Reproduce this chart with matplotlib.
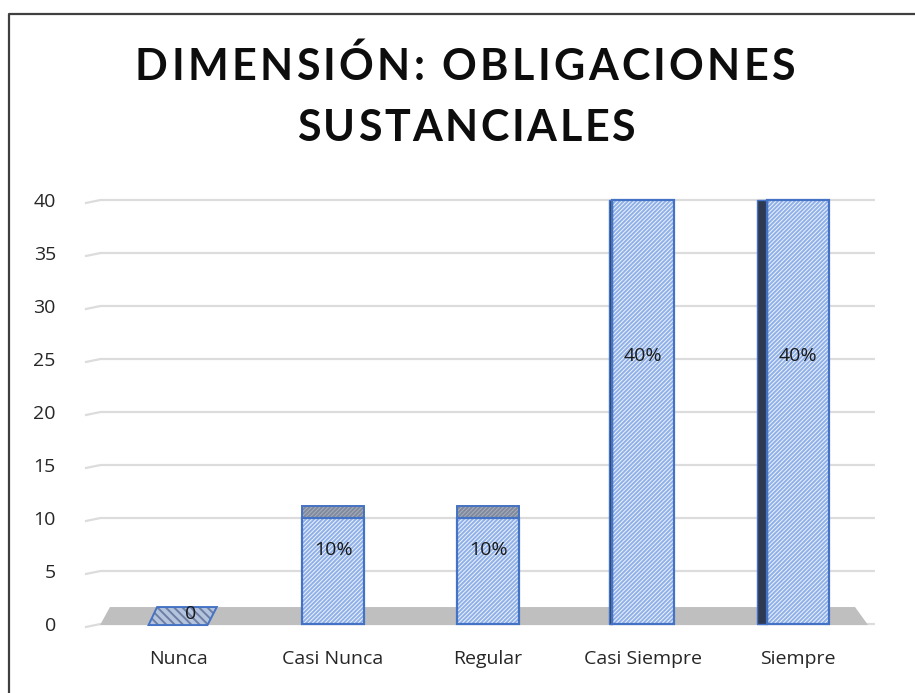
import matplotlib
matplotlib.use("Agg")
import matplotlib.pyplot as plt
from matplotlib.patches import Polygon, Rectangle
from matplotlib.font_manager import FontProperties

categories = ["Nunca", "Casi Nunca", "Regular", "Casi Siempre", "Siempre"]
values = [0, 10, 10, 40, 40]
value_labels = ["0", "10%", "10%", "40%", "40%"]
yticks = [0, 5, 10, 15, 20, 25, 30, 35, 40]
title_lines = ["DIMENSIÓN: OBLIGACIONES", "SUSTANCIALES"]

W, H = 915, 693
fig = plt.figure(figsize=(W / 100, H / 100), dpi=100)
fig.patch.set_facecolor("white")

px_left, px_right = 85, 878
px_y0, px_y40 = 624, 200
ax = fig.add_axes([px_left / W, (H - px_y0) / H, (px_right - px_left) / W, (px_y0 - px_y40) / H])
ax.set_xlim(-0.6, 4.516)
ax.set_ylim(0, 40)
for s in ax.spines.values():
    s.set_visible(False)
ax.set_facecolor("none")

FONT = "Open Sans"
tick_fs = 14.0

ax.set_yticks(yticks)
ax.set_yticklabels([str(t) for t in yticks], fontsize=tick_fs, family=FONT, color="#262626")
ax.tick_params(axis="y", length=0, pad=21)
ax.set_xticks(range(len(categories)))
ax.set_xticklabels(categories, fontsize=tick_fs, family=FONT, color="#262626")
ax.tick_params(axis="x", length=0, pad=19)

xl, xr = ax.get_xlim()
for t in yticks:
    ax.plot([xl, xl + 0.1, xr - 0.02], [t - 0.3, t, t], color="#dcdcdc", lw=1.6,
            zorder=0, clip_on=False, solid_capstyle="butt")

floor = Polygon([(-0.503, -0.1), (4.452, -0.1), (4.368, 1.6), (-0.439, 1.6)],
                closed=True, facecolor="#bfbfbf", edgecolor="none", zorder=1, clip_on=False)
ax.add_patch(floor)

plt.rcParams["hatch.linewidth"] = 1.4
bw = 0.40
face = "#eef3fb"
hatch_col = "#8fb0e8"
edge = "#4472c4"
xs = list(range(len(categories)))

ax.bar(xs, values, width=bw, color=face, edgecolor=hatch_col, hatch="////////", lw=0,
       zorder=3, clip_on=False)
ax.bar(xs, values, width=bw, fill=False, edgecolor=edge,
       lw=[1.6 if v > 0 else 0 for v in values], zorder=4, clip_on=False)

depth = 1.15
for x, v in zip(xs, values):
    if v == 0:
        pts = [(x - 0.19, -0.1), (x + 0.19, -0.1), (x + 0.25, 1.6), (x - 0.135, 1.6)]
        ax.add_patch(Polygon(pts, closed=True, facecolor="#b4c3de", edgecolor="#6c7fa3",
                             hatch="\\\\\\\\", lw=0, zorder=3, clip_on=False))
        ax.add_patch(Polygon(pts, closed=True, fill=False, edgecolor=edge, lw=1.4,
                             zorder=4, clip_on=False))
        continue
    if v + depth <= 40:
        ax.add_patch(Rectangle((x - bw / 2, v), bw, depth, facecolor="#a9aeb8", edgecolor="#7f8aa0",
                               hatch="////////", lw=0, zorder=3, clip_on=False))
        ax.add_patch(Rectangle((x - bw / 2, v), bw, depth, fill=False, edgecolor=edge, lw=1.4,
                               zorder=4, clip_on=False))
    side = max(0.0, (x - 2.5) * 0.045)
    if side > 0:
        ax.add_patch(Rectangle((x - bw / 2 - side, 0), side, v, facecolor="#2e3a52",
                               edgecolor=edge, lw=1.0, zorder=3, clip_on=False))

for x, v, lab in zip(xs, values, value_labels):
    ypos = v * 0.61 + 0.9
    ax.text(x + (0.08 if v == 0 else 0), ypos, lab, ha="center", va="center", fontsize=tick_fs,
            family=FONT, color="#1a1a1a", zorder=6)

fig.canvas.draw()
renderer = fig.canvas.get_renderer()
prop = FontProperties(family="Lato", weight="bold", size=31)


def spaced_text(s, cx_px, base_px, target_w):
    widths = [renderer.get_text_width_height_descent(s[:k], prop, ismath=False)[0] if k > 0 else 0.0
              for k in range(len(s) + 1)]
    spacing = (target_w - widths[-1]) / (len(s) - 1)
    total = widths[-1] + spacing * (len(s) - 1)
    x0 = cx_px - total / 2
    for k, ch in enumerate(s):
        if ch == " ":
            continue
        xp = x0 + widths[k] + spacing * k
        fig.text(xp / W, 1 - base_px / H, ch, fontproperties=prop, ha="left", va="baseline",
                 color="#0d0d0d")


spaced_text(title_lines[0], 465, 80, 660)
spaced_text(title_lines[1], 466, 141, 338)

fig.add_artist(plt.Line2D([9 / W, 9 / W, 1.0], [0, 1 - 14 / H, 1 - 14 / H],
                          transform=fig.transFigure, color="#404040", lw=1.6))

fig.savefig("out.png", dpi=100, facecolor="white")
